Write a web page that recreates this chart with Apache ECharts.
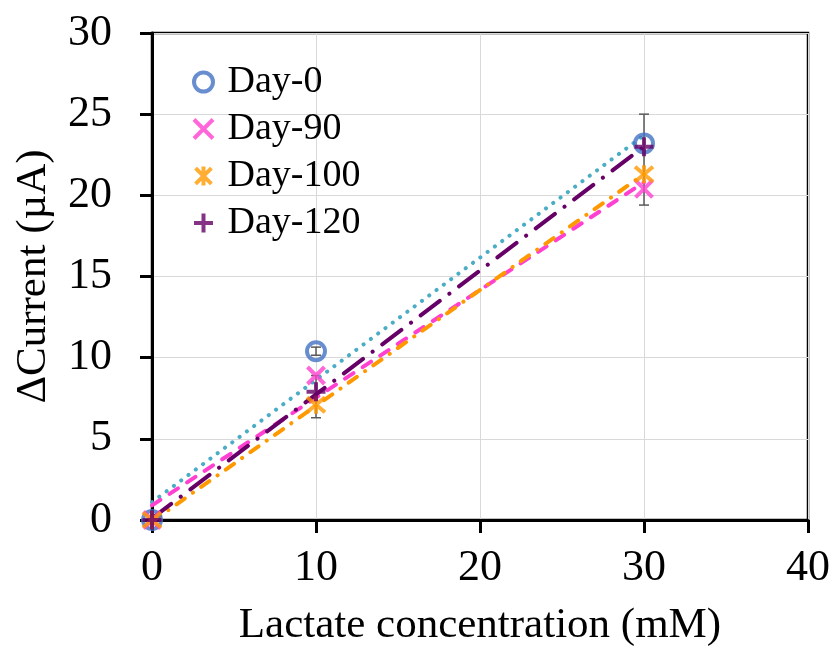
<!DOCTYPE html>
<html><head><meta charset="utf-8">
<script src="https://cdn.jsdelivr.net/npm/echarts@6/dist/echarts.min.js"></script>
<style>html,body{margin:0;padding:0;background:#fff}#c{width:835px;height:648px}</style>
</head><body><div id="c"></div>
<script>
const xValues = [0, 10, 30];
const seriesNames = ['Day-0', 'Day-90', 'Day-100', 'Day-120'];
const day0 = [0, 10.4, 23.2];
const day90 = [0, 8.9, 20.4];
const day100 = [0, 7.1, 21.3];
const day120 = [0, 7.9, 23.0];
// trendline end values (x = 0 and x = 30)
const trendX = [0, 30];
const trend0 = [1.1, 23.7];
const trend90 = [0.9, 20.8];
const trend100 = [-0.1, 21.3];
const trend120 = [0.1, 23.0];
// error bars: [x, low, high]
const errorBars = [[10, 10.15, 10.65], [10, 6.3, 8.9], [30, 19.4, 25.0]];
const xTicks = [0, 10, 20, 30, 40];
const yTicks = [0, 5, 10, 15, 20, 25, 30];

const font = '"Liberation Serif", "Times New Roman", serif';
const colors = ['#4472C4', '#FF40D0', '#FF9900', '#660066'];
const trendColors = ['#4BACC6', '#FF40D0', '#FF9900', '#660066'];
const symbols = [
  'circle',
  'path://M0,0L10,10M10,0L0,10',
  'path://M0,0L10,10M10,0L0,10M5,-1L5,11',
  'path://M5,0L5,10M0,5L10,5'
];
const symbolSizes = [18, 17, 18, 19];
const dataSets = [day0, day90, day100, day120];
const trends = [trend0, trend90, trend100, trend120];
const trendTypes = [[0.1, 9], [10, 11], [10, 10, 0.1, 10], [24, 12, 0.1, 12]];

const series = [];
series.push({
  type: 'custom', z: 3,
  data: errorBars,
  renderItem: function (params, api) {
    const x = api.value(0), lo = api.value(1), hi = api.value(2);
    const p1 = api.coord([x, lo]), p2 = api.coord([x, hi]);
    const w = 5;
    const st = {stroke: '#595959', lineWidth: 1.5};
    return {type: 'group', children: [
      {type: 'line', shape: {x1: p1[0], y1: p1[1], x2: p2[0], y2: p2[1]}, style: st},
      {type: 'line', shape: {x1: p1[0]-w, y1: p1[1], x2: p1[0]+w, y2: p1[1]}, style: st},
      {type: 'line', shape: {x1: p2[0]-w, y1: p2[1], x2: p2[0]+w, y2: p2[1]}, style: st}
    ]};
  }
});
trends.forEach(function (t, i) {
  series.push({
    type: 'line', name: seriesNames[i] + ' trend', z: 4,
    data: trendX.map(function (x, k) { return [x, t[k]]; }),
    symbol: 'none', silent: true,
    lineStyle: {color: trendColors[i], width: 4, type: trendTypes[i], cap: 'round'}
  });
});
dataSets.forEach(function (d, i) {
  series.push({
    type: 'scatter', name: seriesNames[i], z: 5,
    data: xValues.map(function (x, k) { return [x, d[k]]; }),
    symbol: symbols[i],
    symbolSize: symbolSizes[i],
    itemStyle: {color: 'rgba(0,0,0,0)', borderColor: colors[i], borderWidth: 4}
  });
});

const chart = echarts.init(document.getElementById('c'), null, {renderer: 'canvas'});
chart.setOption({
  animation: false,
  backgroundColor: '#fff',
  grid: {left: 152, right: 27, top: 33, bottom: 128, containLabel: false, outerBoundsMode: 'none',
    show: true, borderColor: '#000', borderWidth: 2.5, backgroundColor: 'transparent'},
  legend: {
    data: seriesNames.map(function (n, i) {
      return {name: n, icon: symbols[i], itemStyle: {color: 'rgba(0,0,0,0)', borderColor: colors[i], borderWidth: 4}};
    }),
    orient: 'vertical', left: 187, top: 58, itemGap: 9, itemWidth: 20, itemHeight: 19,
    textStyle: {fontFamily: font, fontSize: 38, color: '#000', padding: [0, 0, 0, 9]}
  },
  xAxis: {
    type: 'value', min: xTicks[0], max: xTicks[xTicks.length-1], interval: 10,
    name: 'Lactate concentration (mM)', nameLocation: 'middle', nameGap: 84,
    nameTextStyle: {fontFamily: font, fontSize: 43, color: '#000'},
    axisLine: {lineStyle: {color: '#000', width: 3}},
    axisTick: {show: true, length: 13, lineStyle: {color: '#000', width: 3}},
    axisLabel: {fontFamily: font, fontSize: 44, color: '#000', margin: 26},
    splitLine: {show: true, lineStyle: {color: '#d9d9d9', width: 1}}
  },
  yAxis: {
    type: 'value', min: yTicks[0], max: yTicks[yTicks.length-1], interval: 5,
    name: 'ΔCurrent (µA)', nameLocation: 'middle', nameGap: 97, nameRotate: 90,
    nameTextStyle: {fontFamily: font, fontSize: 43, color: '#000'},
    axisLine: {lineStyle: {color: '#000', width: 3}},
    axisTick: {show: true, length: 12, lineStyle: {color: '#000', width: 3}},
    axisLabel: {fontFamily: font, fontSize: 44, color: '#000', margin: 40},
    splitLine: {show: true, lineStyle: {color: '#d9d9d9', width: 1}}
  },
  series: series
});
</script>
</body></html>
